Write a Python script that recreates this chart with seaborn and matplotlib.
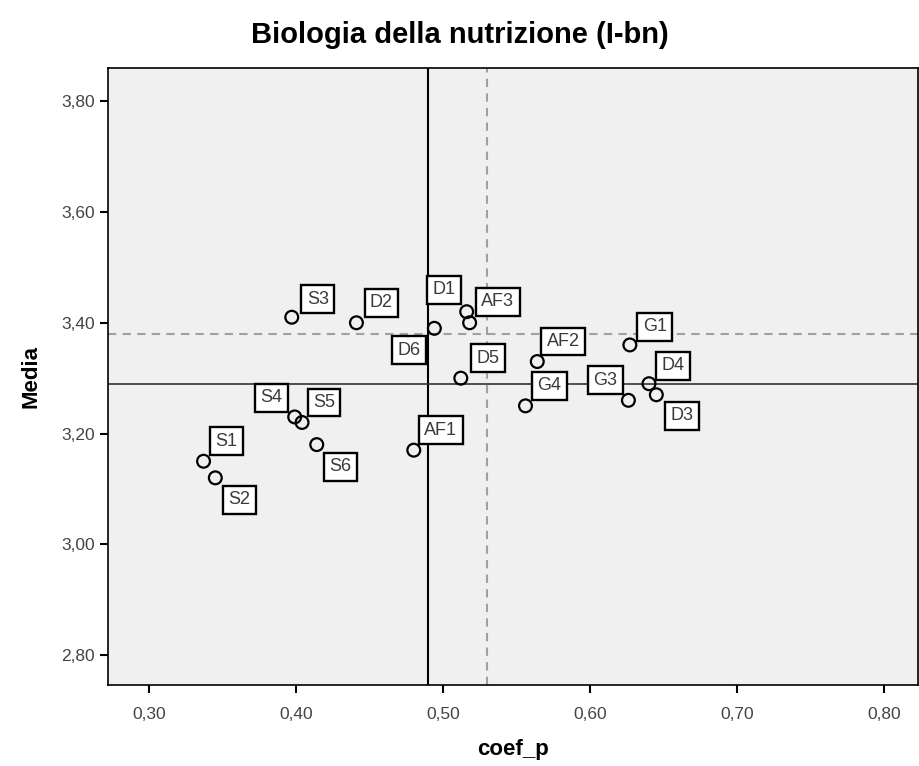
import matplotlib
matplotlib.use("Agg")
import matplotlib.pyplot as plt
import seaborn as sns
import pandas as pd
from matplotlib.ticker import FuncFormatter

labels = ["S1", "S2", "S3", "D2", "D6", "D1", "AF3", "D5", "S4", "S5", "S6",
          "AF1", "AF2", "G4", "G1", "G3", "D4", "D3"]
coef_p = [0.337, 0.345, 0.397, 0.441, 0.494, 0.516, 0.518, 0.512, 0.399, 0.404, 0.414,
          0.480, 0.564, 0.556, 0.627, 0.626, 0.640, 0.645]
media = [3.15, 3.12, 3.41, 3.40, 3.39, 3.42, 3.40, 3.30, 3.23, 3.22, 3.18,
         3.17, 3.33, 3.25, 3.36, 3.26, 3.29, 3.27]
# label offsets in pixels (dx, dy upward positive)
offsets = [(23, 20), (24, -22), (26, 18), (25, 20), (-25, -22), (-23, 22), (28, 21),
           (27, 20), (-23, 19), (22, 20), (24, -22), (27, 20), (26, 20), (24, 20),
           (25, 18), (-23, 20), (24, 18), (26, -21)]

ref_x_solid, ref_x_dash = 0.49, 0.53
ref_y_solid, ref_y_dash = 3.29, 3.38
xticks = [0.30, 0.40, 0.50, 0.60, 0.70, 0.80]
yticks = [2.80, 3.00, 3.20, 3.40, 3.60, 3.80]

df = pd.DataFrame({"coef_p": coef_p, "Media": media, "label": labels})

sns.set_style("white")
plt.rcParams["font.family"] = ["Liberation Sans", "DejaVu Sans"]

fig = plt.figure(figsize=(9.19, 7.66), dpi=100)
ax = fig.add_axes([108 / 919, 1 - 685 / 766, 810 / 919, 617 / 766])
ax.set_facecolor("#f0f0f0")

ax.axvline(ref_x_solid, color="black", lw=1.5, zorder=1)
ax.axhline(ref_y_solid, color="#333333", lw=1.2, zorder=1)
ax.axvline(ref_x_dash, color="#a0a0a0", lw=1.5, ls=(0, (4, 3)), zorder=1)
ax.axhline(ref_y_dash, color="#a0a0a0", lw=1.5, ls=(0, (4, 3)), zorder=1)

sns.scatterplot(data=df, x="coef_p", y="Media", ax=ax, s=85, facecolor="none",
                edgecolor="black", linewidth=1.6, zorder=3)

for lab, x, y, (dx, dy) in zip(labels, coef_p, media, offsets):
    ax.annotate(lab, (x, y), xytext=(dx * 0.72, dy * 0.72), textcoords="offset points",
                ha="center", va="center", fontsize=13, color="#3a3a3a", zorder=4,
                bbox=dict(boxstyle="square,pad=0.3", fc="white", ec="black", lw=1.7))

ax.set_xlim(0.272, 0.823)
ax.set_ylim(2.746, 3.86)
ax.set_xticks(xticks)
ax.set_yticks(yticks)
fmt = FuncFormatter(lambda v, p: f"{v:.2f}".replace(".", ","))
ax.xaxis.set_major_formatter(fmt)
ax.yaxis.set_major_formatter(fmt)
ax.tick_params(axis="both", direction="out", length=6, width=1.5, color="black",
               labelsize=12.5, labelcolor="#444444", bottom=True, left=True)
ax.tick_params(axis="x", pad=10)
for s in ax.spines.values():
    s.set_color("black")
    s.set_linewidth(1.2)

ax.set_xlabel("coef_p", fontsize=16, fontweight="bold", labelpad=12, color="black")
ax.set_ylabel("Media", fontsize=16, fontweight="bold", labelpad=14, color="black")
fig.suptitle("Biologia della nutrizione (I-bn)", fontsize=21, fontweight="bold",
             x=0.5, y=0.972, color="black")

fig.savefig("out.png", dpi=100)
